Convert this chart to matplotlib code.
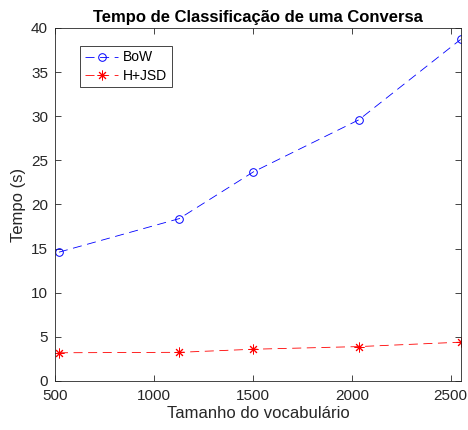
import matplotlib.pyplot as plt

vocab_bow = [520, 1128, 1503, 2036, 2550]
tempo_bow = [14.6, 18.4, 23.7, 29.6, 38.7]
vocab_hjsd = [520, 1128, 1503, 2036, 2550]
tempo_hjsd = [3.2, 3.25, 3.6, 3.9, 4.4]

plt.rcParams['font.family'] = ['Liberation Sans', 'DejaVu Sans']
plt.rcParams['lines.scale_dashes'] = False

fig = plt.figure(figsize=(4.68, 4.30), dpi=100)
ax = fig.add_axes([55 / 468, 1 - 381 / 430, 406 / 468, 353 / 430])

ax.plot(vocab_bow, tempo_bow, linestyle='--', marker='o', color='blue',
        linewidth=0.6, markersize=5.5, markerfacecolor='none',
        markeredgewidth=0.7, dashes=(6.5, 4), label='BoW')
ax.plot(vocab_hjsd, tempo_hjsd, linestyle='--', marker=(8, 2, 0), color='red',
        linewidth=0.6, markersize=7, markeredgewidth=0.7, dashes=(6.5, 4),
        label='H+JSD')

ax.set_xlim(500, 2552)
ax.set_ylim(0, 40)
ax.set_xticks([500, 1000, 1500, 2000, 2500])
ax.set_yticks(range(0, 41, 5))

ax.tick_params(direction='in', top=True, right=True, length=4,
               width=0.6, labelsize=11, colors='#262626')
ax.tick_params(axis='x', pad=6)
ax.tick_params(axis='y', pad=5)
for spine in ax.spines.values():
    spine.set_color('#262626')
    spine.set_linewidth(0.6)

ax.set_xlabel('Tamanho do vocabulário', fontsize=12, color='#262626',
              labelpad=2)
ax.set_ylabel('Tempo (s)', fontsize=12, color='#262626')
ax.set_title('Tempo de Classificação de uma Conversa', fontsize=12,
             fontweight='bold', pad=4)

leg = ax.legend(loc='upper left', bbox_to_anchor=(0.045, 0.97), fontsize=10,
                fancybox=False, edgecolor='#262626', framealpha=1,
                handlelength=2.4, handletextpad=0.3, borderpad=0.35,
                labelspacing=0.3)
leg.get_frame().set_linewidth(0.6)

fig.savefig('out.png', dpi=100, facecolor='white')
